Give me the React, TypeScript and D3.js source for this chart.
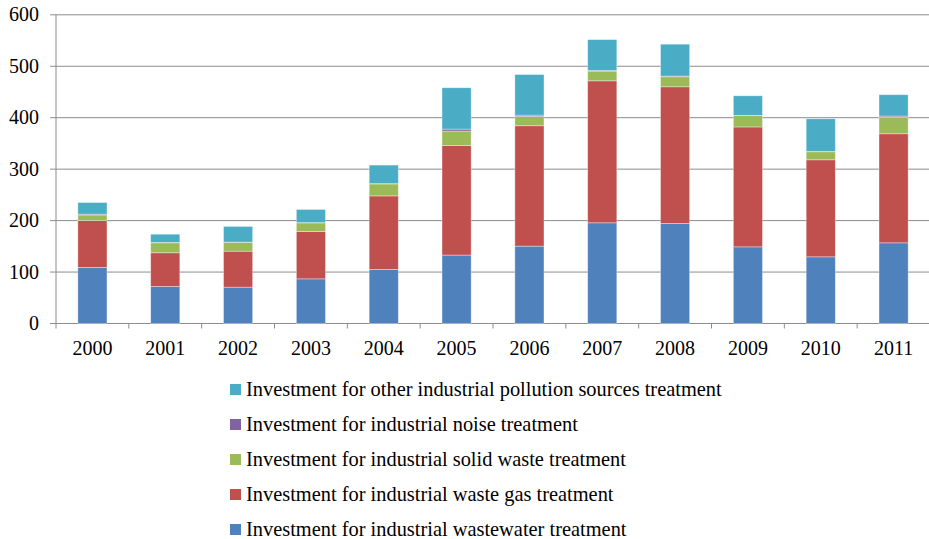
import React from "react";
import * as d3 from "d3";

const years = ["2000", "2001", "2002", "2003", "2004", "2005", "2006", "2007", "2008", "2009", "2010", "2011"];

// Investment by treatment category (stacked bottom to top)
const wastewater = [109, 72, 70.6, 86.8, 105, 133, 150.4, 195.7, 194.4, 149, 129.6, 156.8];
const wasteGas = [91, 65.5, 70, 92, 143, 213, 234, 276, 265.7, 233, 188.6, 212];
const solidWaste = [11, 19.4, 17, 16.8, 23.3, 28, 18, 18.8, 19.5, 22, 15.6, 32.4];
const noise = [1.5, 0.7, 0.5, 0.5, 0.6, 3.8, 2.5, 1.3, 1.3, 0.6, 0.6, 2];
const otherSources = [22.6, 16, 30.5, 25.5, 36, 80.4, 79, 60, 62, 38, 63.5, 41.5];

const yTicks = [0, 100, 200, 300, 400, 500, 600];

const seriesNames = [
  "Investment for industrial wastewater treatment",
  "Investment for industrial waste gas treatment",
  "Investment for industrial solid waste treatment",
  "Investment for industrial noise treatment",
  "Investment for other industrial pollution sources treatment",
];
const seriesValues = [wastewater, wasteGas, solidWaste, noise, otherSources];
const seriesColors = ["#4F81BD", "#C0504D", "#9BBB59", "#8064A2", "#4BACC6"];

const W = 929;
const H = 539;
const plotLeft = 56;
const plotRight = 930;
const FONT = "Liberation Serif";
const FS = 20;
const LEGEND_FS = 20.4;

export default function App() {
  const x = d3.scaleBand<string>().domain(years).range([plotLeft, plotRight]).paddingInner(0.6).paddingOuter(0.3);
  const y = d3.scaleLinear().domain([0, 600]).range([323.5, 14.8]);

  const rows = years.map((yr, i) => {
    const r: Record<string, number | string> = { year: yr };
    seriesNames.forEach((n, k) => (r[n] = seriesValues[k][i]));
    return r;
  });
  const stacked = d3.stack<Record<string, number | string>>().keys(seriesNames)(rows as any);

  const band = (plotRight - plotLeft) / years.length;
  const tickXs = d3.range(years.length + 1).map((i) => plotLeft + i * band);

  const legendOrder = [4, 3, 2, 1, 0];
  const legendBaselines = [396, 431, 466, 501, 536];

  return (
    <svg width={W} height={H} style={{ position: "absolute", left: 0, top: 0, background: "#fff" }}>
      {/* horizontal gridlines */}
      {yTicks.map((t) => (
        <line key={"g" + t} x1={plotLeft - 6} x2={plotRight} y1={y(t)} y2={y(t)} stroke="#8c8c8c" strokeWidth={1} />
      ))}
      {/* y-axis line */}
      <line x1={plotLeft} x2={plotLeft} y1={y(600)} y2={y(0)} stroke="#8c8c8c" strokeWidth={1} />
      {/* x-axis category ticks */}
      {tickXs.map((tx, i) => (
        <line key={"xt" + i} x1={tx} x2={tx} y1={y(0)} y2={y(0) + 5} stroke="#8c8c8c" strokeWidth={1} />
      ))}
      {/* y labels */}
      {yTicks.map((t) => (
        <text key={"yl" + t} x={plotLeft - 17} y={y(t)} dy="0.33em" textAnchor="end" style={{ fontFamily: FONT }} fontSize={FS} fill="#000">
          {t}
        </text>
      ))}
      {/* x labels */}
      {years.map((yr) => (
        <text key={"xl" + yr} x={(x(yr) as number) + x.bandwidth() / 2} y={355} textAnchor="middle" style={{ fontFamily: FONT }} fontSize={FS} fill="#000">
          {yr}
        </text>
      ))}
      {/* stacked bars */}
      {stacked.map((s, k) => (
        <g key={"s" + k} fill={seriesColors[k]}>
          {s.map((d, i) => (
            <rect
              key={i}
              x={x(years[i]) as number}
              width={x.bandwidth()}
              y={y(d[1])}
              height={Math.max(0, y(d[0]) - y(d[1]))}
              stroke="#ffffff"
              strokeOpacity={0.45}
              strokeWidth={0.8}
            />
          ))}
        </g>
      ))}
      {/* legend */}
      {legendOrder.map((k, j) => (
        <g key={"lg" + k}>
          <rect x={230} y={legendBaselines[j] - 12} width={11} height={11} fill={seriesColors[k]} />
          <text x={246} y={legendBaselines[j]} style={{ fontFamily: FONT }} fontSize={LEGEND_FS} fill="#000">
            {seriesNames[k]}
          </text>
        </g>
      ))}
    </svg>
  );
}
